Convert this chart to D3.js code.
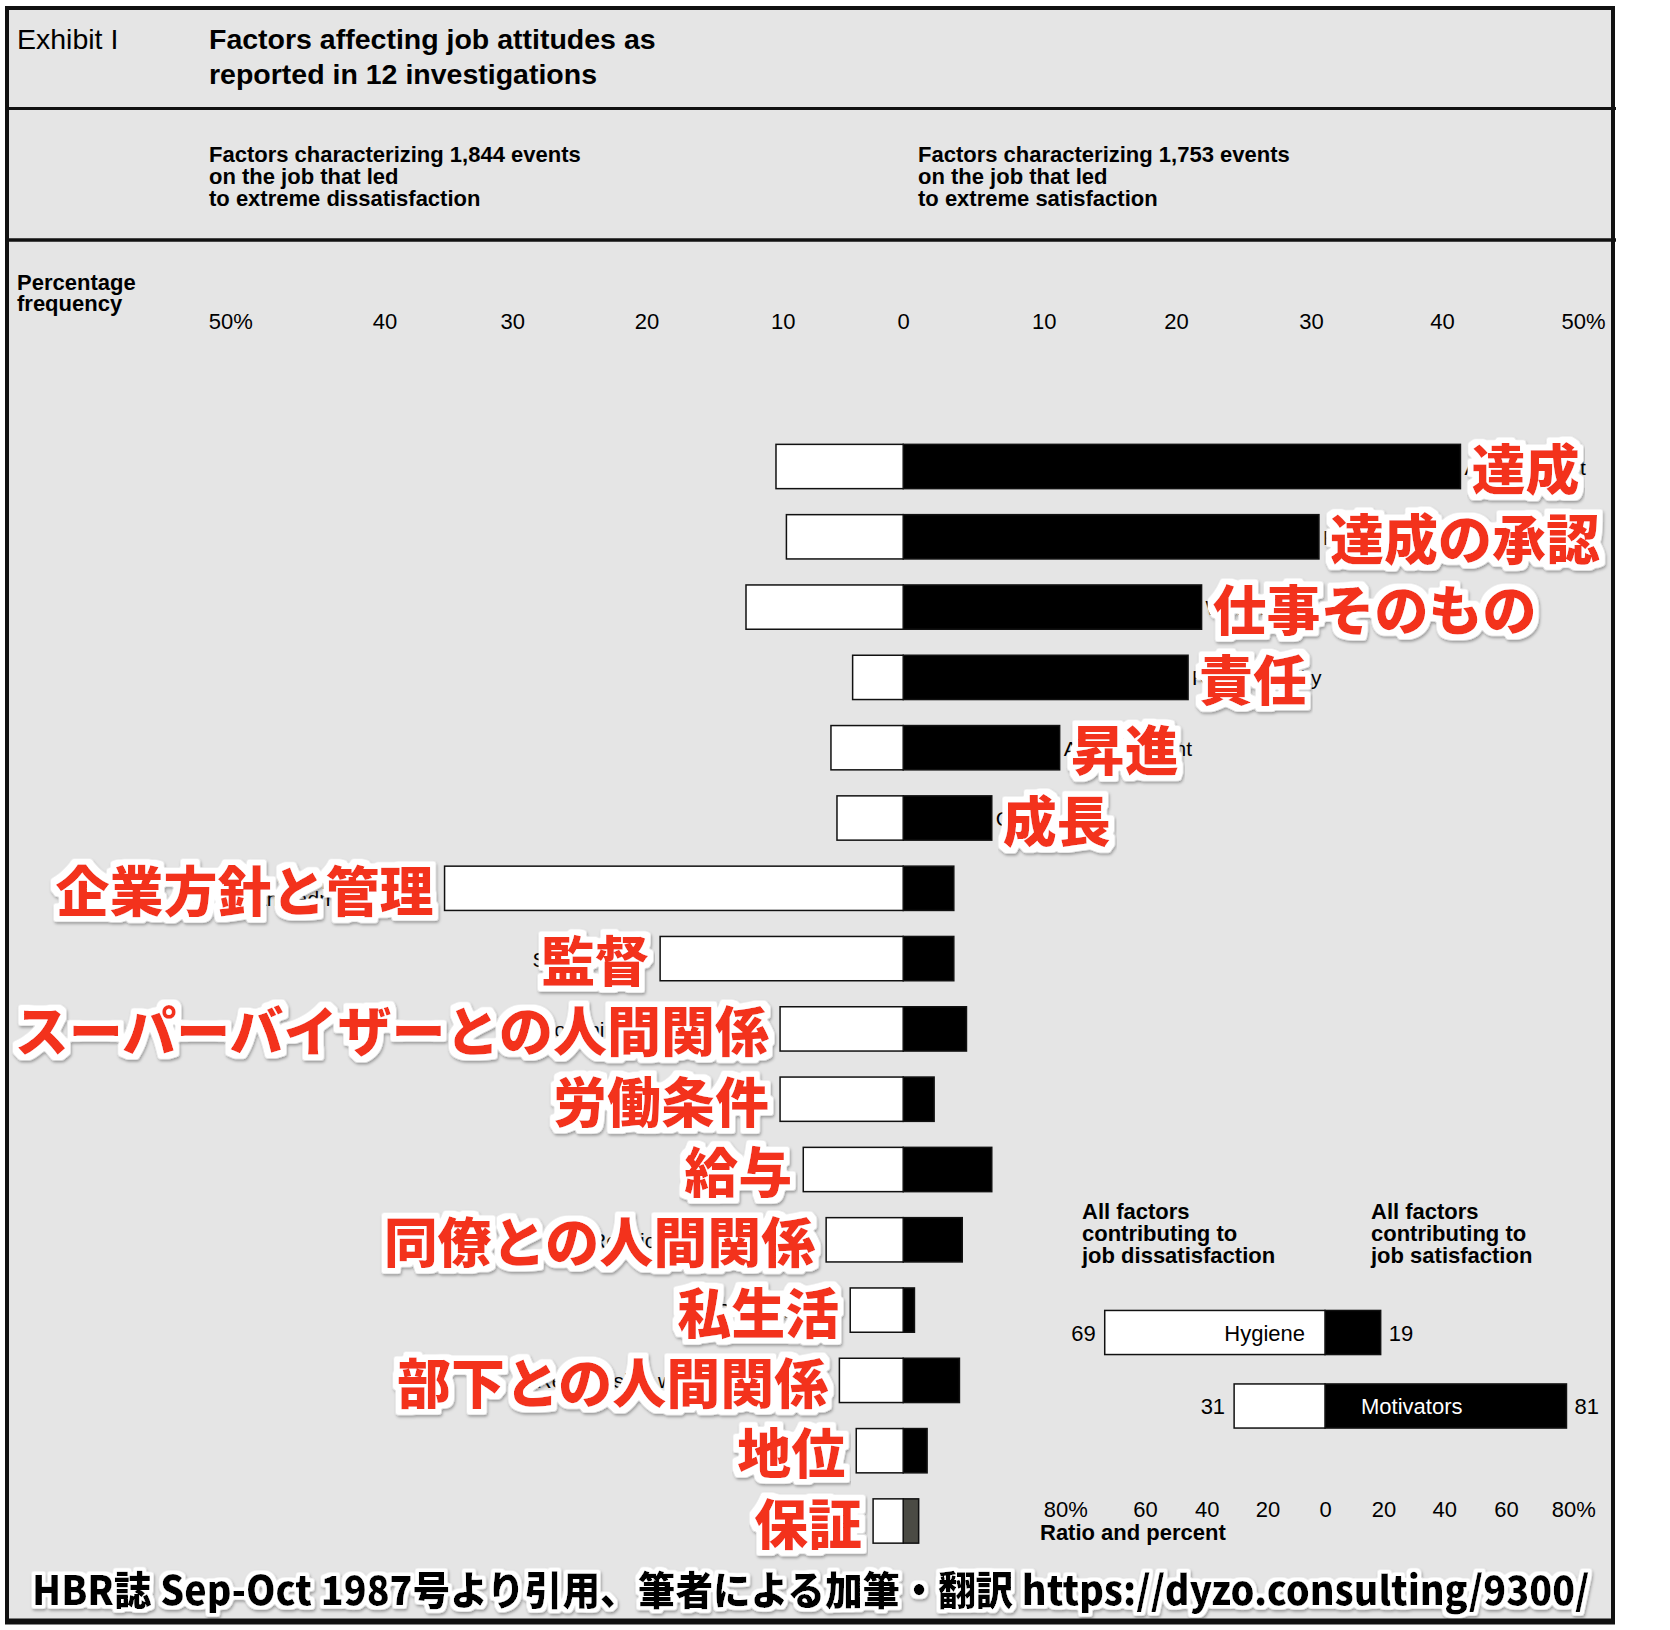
<!DOCTYPE html>
<html>
<head>
<meta charset="utf-8">
<script src="https://cdn.jsdelivr.net/npm/d3@7"></script>
<style>
  html, body { margin: 0; padding: 0; background: #fff; }
  svg { display: block; }
</style>
</head>
<body>
<svg id="chart"></svg>
<script>
// factors, top to bottom
const factors = ["Achievement", "Recognition", "Work itself", "Responsibility", "Advancement", "Growth",
  "Company policy and administration", "Supervision", "Relationship with supervisor", "Work conditions",
  "Salary", "Relationship with peers", "Personal life", "Relationship with subordinates", "Status", "Security"];
const labelsJa = ["達成", "達成の承認", "仕事そのもの", "責任", "昇進", "成長",
  "企業方針と管理", "監督", "スーパーバイザーとの人間関係", "労働条件",
  "給与", "同僚との人間関係", "私生活", "部下との人間関係", "地位", "保証"];
// percentage frequency
const dissatisfaction = [10.5, 9.7, 12.7, 4.2, 6.0, 5.5, 35.3, 19.0, 10.2, 10.2, 8.3, 6.4, 4.4, 5.3, 3.9, 2.5];
const satisfaction = [41.4, 30.6, 21.9, 20.9, 11.2, 6.3, 3.6, 3.6, 4.5, 2.2, 6.3, 4.2, 0.8, 4.0, 1.7, 1.1];
const tickValues = [0, 10, 20, 30, 40, 50];

// small summary chart
const summaryGroups = ["Hygiene", "Motivators"];
const summaryDis = [69, 31];
const summarySat = [19, 81];
const summaryTicks = [-80, -60, -40, -20, 0, 20, 40, 60, 80];

const width = 1670, height = 1630;
const sans = "'Liberation Sans', Arial, Helvetica, sans-serif";
const cjk = "'Noto Sans CJK JP', 'Noto Sans CJK SC', sans-serif";
const red = "#f3321a";

const svg = d3.select('#chart').attr('width', width).attr('height', height);

// sticker look: slightly thicker glyphs, white halo, soft shadow – all in one filter
function stickerFilter(id, bold, halo) {
  const f = svg.append('defs').append('filter').attr('id', id)
    .attr('x', '-5%').attr('y', '-40%').attr('width', '110%').attr('height', '180%');
  f.append('feMorphology').attr('in', 'SourceGraphic').attr('operator', 'dilate').attr('radius', bold).attr('result', 'fat');
  f.append('feMorphology').attr('in', 'SourceAlpha').attr('operator', 'dilate').attr('radius', halo).attr('result', 'haloA0');
  f.append('feGaussianBlur').attr('in', 'haloA0').attr('stdDeviation', 0.9).attr('result', 'haloA1');
  f.append('feComponentTransfer').attr('in', 'haloA1').attr('result', 'haloA')
    .append('feFuncA').attr('type', 'linear').attr('slope', 2.5).attr('intercept', -0.2);
  f.append('feFlood').attr('flood-color', '#fff').attr('result', 'white');
  f.append('feComposite').attr('in', 'white').attr('in2', 'haloA').attr('operator', 'in').attr('result', 'haloW');
  f.append('feGaussianBlur').attr('in', 'haloA').attr('stdDeviation', 1.6).attr('result', 'blur');
  f.append('feOffset').attr('in', 'blur').attr('dx', 1).attr('dy', 2).attr('result', 'off');
  f.append('feFlood').attr('flood-color', '#000').attr('flood-opacity', 0.35).attr('result', 'shade');
  f.append('feComposite').attr('in', 'shade').attr('in2', 'off').attr('operator', 'in').attr('result', 'shadow');
  const m = f.append('feMerge');
  ['shadow', 'haloW', 'fat'].forEach(n => m.append('feMergeNode').attr('in', n));
}
stickerFilter('sticker', 0.4, 4.5);
stickerFilter('stickerFoot', 0.2, 3.2);

// background
svg.append('rect').attr('x', 7).attr('y', 8).attr('width', 1606).attr('height', 1613).attr('fill', '#e5e5e5');

function textLines(lines, x, y0, lh, size, weight) {
  const g = svg.append('g');
  lines.forEach((t, i) => {
    g.append('text').attr('x', x).attr('y', y0 + i * lh)
      .attr('font-family', sans).attr('font-size', size).attr('font-weight', weight)
      .attr('fill', '#000').text(t);
  });
  return g;
}

// header
svg.append('text').attr('x', 17).attr('y', 49).attr('font-family', sans).attr('font-size', 28.5)
  .text('Exhibit I');
textLines(['Factors affecting job attitudes as', 'reported in 12 investigations'], 209, 49, 35, 28.5, 'bold');
textLines(['Factors characterizing 1,844 events', 'on the job that led', 'to extreme dissatisfaction'], 209, 162, 22, 22, 'bold');
textLines(['Factors characterizing 1,753 events', 'on the job that led', 'to extreme satisfaction'], 918, 162, 22, 22, 'bold');
textLines(['Percentage', 'frequency'], 17, 290, 21, 22, 'bold');

// scales (the printed left axis is spaced unevenly, so both sides are polylinear)
const xDis = d3.scaleLinear().domain(tickValues).range([903.2, 782.8, 646.5, 512.3, 384.5, 220.5]);
const xSat = d3.scaleLinear().domain(tickValues).range([903.2, 1043.8, 1175.9, 1311.1, 1442.1, 1573.2]);
const y = d3.scaleBand().domain(factors).range([431.35, 1556.15]).paddingInner(0.37).paddingOuter(0.185);

function styleAxis(g) {
  g.select('.domain').remove();
  g.selectAll('.tick line').remove();
  g.selectAll('text').attr('font-family', sans).attr('font-size', 22).attr('fill', '#000');
  // keep the number centred on the tick, let "%" hang to the right
  g.selectAll('text').filter(function () { return this.textContent.endsWith('%'); })
    .each(function () {
      const t = d3.select(this);
      const full = this.textContent;
      t.text(full.slice(0, -1));
      const w = this.getComputedTextLength();
      t.text(full).attr('text-anchor', 'start').attr('x', -w / 2);
    });
}

svg.append('g').attr('transform', 'translate(0,329)')
  .call(d3.axisTop(xDis).tickValues(tickValues.slice(1)).tickSize(0).tickPadding(0)
    .tickFormat(d => d === 50 ? '50%' : d))
  .call(styleAxis);
svg.append('g').attr('transform', 'translate(0,329)')
  .call(d3.axisTop(xSat).tickValues(tickValues).tickSize(0).tickPadding(0)
    .tickFormat(d => d === 50 ? '50%' : d))
  .call(styleAxis);

// bars
const rows = factors.map((f, i) => ({ f, ja: labelsJa[i], dis: dissatisfaction[i], sat: satisfaction[i], motivator: i < 6 }));
const bars = svg.append('g');
bars.selectAll('.sat').data(rows).enter().append('rect')
  .attr('x', xSat(0)).attr('y', d => y(d.f))
  .attr('width', d => xSat(d.sat) - xSat(0)).attr('height', y.bandwidth())
  .attr('fill', d => d.f === 'Security' ? '#4b4b44' : '#000')
  .attr('stroke', '#111').attr('stroke-width', 1.5);
bars.selectAll('.dis').data(rows).enter().append('rect')
  .attr('x', d => xDis(d.dis)).attr('y', d => y(d.f))
  .attr('width', d => xDis(0) - xDis(d.dis)).attr('height', y.bandwidth())
  .attr('fill', '#fff').attr('stroke', '#111').attr('stroke-width', 1.5);

// original English labels, mostly covered by the Japanese ones
const en = svg.append('g').attr('font-family', sans).attr('font-size', 21).attr('fill', '#000');
rows.forEach(d => {
  const cy = y(d.f) + y.bandwidth() / 2;
  const x = d.motivator ? xSat(d.sat) + 4 : xDis(d.dis) - 18;
  const t = en.append('text').attr('x', x).attr('text-anchor', d.motivator ? 'start' : 'end');
  if (d.f === 'Company policy and administration') {
    t.attr('y', cy - 3);
    t.append('tspan').attr('x', x).text('Company policy');
    t.append('tspan').attr('x', x).attr('dy', 21).text('and administration');
  } else {
    t.attr('y', cy + 8).text(d.f);
  }
});

// Japanese labels
svg.append('g').selectAll('text').data(rows).enter().append('text')
  .attr('x', d => d.motivator ? xSat(d.sat) + 11 : xDis(d.dis) - 11)
  .attr('y', d => y(d.f) + y.bandwidth() / 2)
  .attr('text-anchor', d => d.motivator ? 'start' : 'end')
  .attr('dominant-baseline', 'central')
  .attr('font-family', cjk).attr('font-size', 54).attr('font-weight', 900)
  .attr('fill', red).attr('filter', 'url(#sticker)')
  .text(d => d.ja);

// summary chart
textLines(['All factors', 'contributing to', 'job dissatisfaction'], 1082, 1219, 22, 22, 'bold');
textLines(['All factors', 'contributing to', 'job satisfaction'], 1371, 1219, 22, 22, 'bold');

const xSum = d3.scaleLinear().domain(summaryTicks)
  .range([1055.5, 1145, 1206.8, 1267.5, 1325, 1383.6, 1444.3, 1506.1, 1563.6]);
const ySum = d3.scaleBand().domain(summaryGroups).range([1295.75, 1442.75]).paddingInner(0.4).paddingOuter(0.2);
const sumRows = summaryGroups.map((g, i) => ({ g, dis: summaryDis[i], sat: summarySat[i] }));

const sg = svg.append('g');
sg.selectAll('.ssat').data(sumRows).enter().append('rect')
  .attr('x', xSum(0)).attr('y', d => ySum(d.g))
  .attr('width', d => xSum(d.sat) - xSum(0)).attr('height', ySum.bandwidth())
  .attr('fill', '#000').attr('stroke', '#111').attr('stroke-width', 1.5);
sg.selectAll('.sdis').data(sumRows).enter().append('rect')
  .attr('x', d => xSum(-d.dis)).attr('y', d => ySum(d.g))
  .attr('width', d => xSum(0) - xSum(-d.dis)).attr('height', ySum.bandwidth())
  .attr('fill', '#fff').attr('stroke', '#111').attr('stroke-width', 1.5);

const sumText = (x, yy, anchor, fill, txt) => sg.append('text')
  .attr('x', x).attr('y', yy).attr('text-anchor', anchor)
  .attr('font-family', sans).attr('font-size', 22).attr('fill', fill).text(txt);
sumRows.forEach(d => {
  const cy = ySum(d.g) + ySum.bandwidth() / 2 + 8;
  sumText(xSum(-d.dis) - 9, cy, 'end', '#000', d.dis);
  sumText(xSum(d.sat) + 8, cy, 'start', '#000', d.sat);
});
sumText(xSum(0) - 20, ySum('Hygiene') + ySum.bandwidth() / 2 + 8, 'end', '#000', 'Hygiene');
sumText(xSum(0) + 36, ySum('Motivators') + ySum.bandwidth() / 2 + 8, 'start', '#fff', 'Motivators');

svg.append('g').attr('transform', 'translate(0,1517)')
  .call(d3.axisTop(xSum).tickValues(summaryTicks).tickSize(0).tickPadding(0)
    .tickFormat(d => Math.abs(d) === 80 ? '80%' : Math.abs(d)))
  .call(styleAxis);
textLines(['Ratio and percent'], 1040, 1540, 22, 22, 'bold');

// footer credit, squeezed horizontally to the frame width
const foot = svg.append('g');
const footText = foot.append('text').attr('x', 0).attr('y', 0).attr('dominant-baseline', 'central')
  .attr('font-family', cjk).attr('font-size', 40).attr('font-weight', 900)
  .attr('fill', '#000').attr('filter', 'url(#stickerFoot)')
  .text('HBR誌 Sep-Oct 1987号より引用、筆者による加筆・翻訳 https://dyzo.consulting/9300/');
const footW = footText.node().getComputedTextLength();
foot.attr('transform', `translate(32,1587) scale(${1558 / footW},1)`);

// frame lines
const frame = svg.append('g').attr('stroke', '#111').attr('fill', 'none');
frame.append('line').attr('x1', 5).attr('x2', 1616).attr('y1', 108.5).attr('y2', 108.5).attr('stroke-width', 3);
frame.append('line').attr('x1', 5).attr('x2', 1616).attr('y1', 240).attr('y2', 240).attr('stroke-width', 3.5);
frame.append('rect').attr('x', 7).attr('y', 8).attr('width', 1606).attr('height', 1613).attr('stroke-width', 4);
frame.append('line').attr('x1', 5).attr('x2', 1615).attr('y1', 1621.5).attr('y2', 1621.5).attr('stroke-width', 6);
</script>
</body>
</html>
